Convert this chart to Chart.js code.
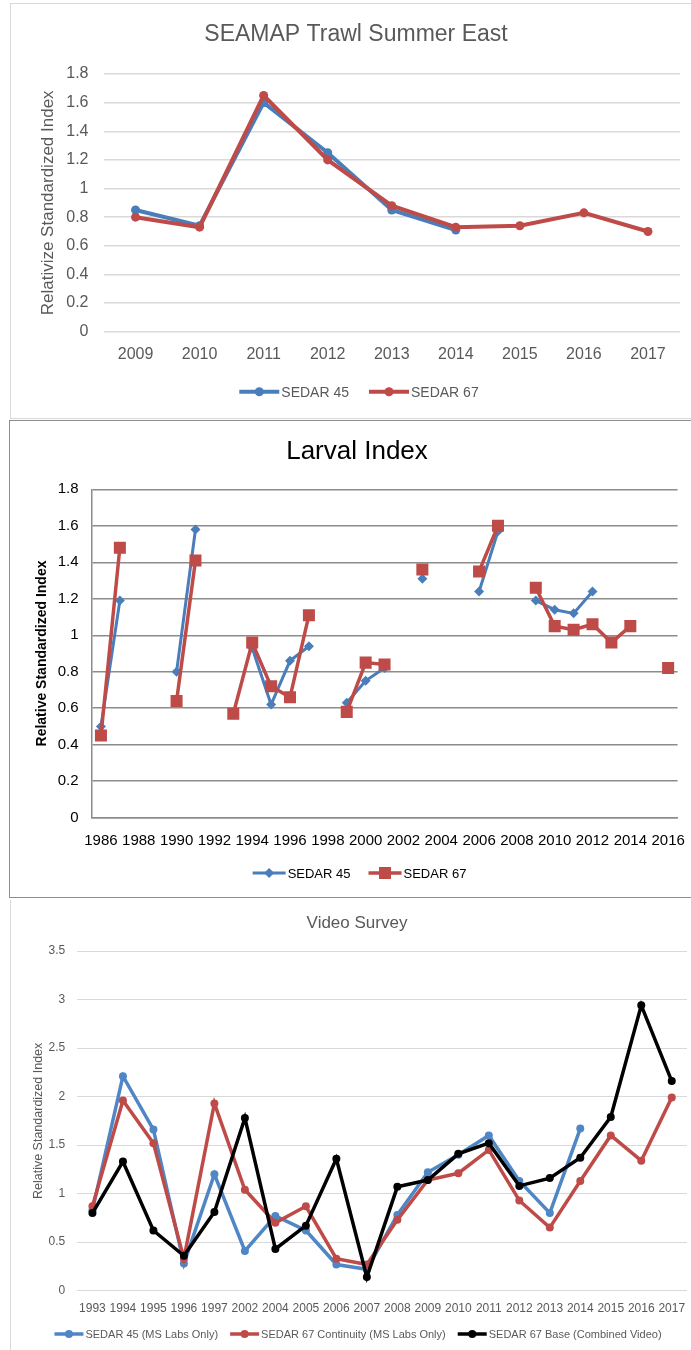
<!DOCTYPE html>
<html>
<head>
<meta charset="utf-8">
<title>SEDAR index comparison</title>
<script src="https://cdn.jsdelivr.net/npm/chart.js@4.4.1/dist/chart.umd.min.js"></script>
<style>
  html, body { margin: 0; padding: 0; background: #fff; }
  body { position: relative; width: 691px; height: 1350px; overflow: hidden; }
  .frame { position: absolute; box-sizing: border-box; }
  #frame1 { left: 10px; top: 3px; width: 700px; height: 416px; border: 1px solid #d9d9d9; }
  #frame2 { left: 9px; top: 420px; width: 700px; height: 478px; border: 1px solid #8c8c8c; }
  #frame3 { left: 10px; top: 900px; width: 1px; height: 450px; background: #d9d9d9; }
  canvas { position: absolute; left: 0; }
  #trawlChart { top: 0; }
  #larvalChart { top: 420px; }
  #videoChart { top: 900px; }
</style>
</head>
<body>
<div class="frame" id="frame1"></div>
<div class="frame" id="frame2"></div>
<div class="frame" id="frame3"></div>
<canvas id="trawlChart" width="691" height="420"></canvas>
<canvas id="larvalChart" width="691" height="480"></canvas>
<canvas id="videoChart" width="691" height="450"></canvas>
<script>
// SEAMAP Trawl Summer East
const trawlYears = ['2009', '2010', '2011', '2012', '2013', '2014', '2015', '2016', '2017'];
const trawlSedar45 = [0.85, 0.74, 1.60, 1.25, 0.85, 0.71, null, null, null];
const trawlSedar67 = [0.80, 0.73, 1.65, 1.20, 0.88, 0.73, 0.74, 0.83, 0.70];

// Larval Index (gaps = no survey)
const larvalYears = ['1986', '1987', '1988', '1989', '1990', '1991', '1992', '1993', '1994', '1995',
  '1996', '1997', '1998', '1999', '2000', '2001', '2002', '2003', '2004', '2005',
  '2006', '2007', '2008', '2009', '2010', '2011', '2012', '2013', '2014', '2015', '2016'];
const larvalSedar45 = [0.50, 1.19, null, null, 0.80, 1.58, null, null, 0.93, 0.62,
  0.86, 0.94, null, 0.63, 0.75, 0.82, null, 1.31, null, null,
  1.24, 1.57, null, 1.19, 1.14, 1.12, 1.24, null, null, null, null];
const larvalSedar67 = [0.45, 1.48, null, null, 0.64, 1.41, null, 0.57, 0.96, 0.72,
  0.66, 1.11, null, 0.58, 0.85, 0.84, null, 1.36, null, null,
  1.35, 1.60, null, 1.26, 1.05, 1.03, 1.06, 0.96, 1.05, null, 0.82];

// Video Survey
const videoYears = ['1993', '1994', '1995', '1996', '1997', '2002', '2004', '2005', '2006', '2007',
  '2008', '2009', '2010', '2011', '2012', '2013', '2014', '2015', '2016', '2017'];
const videoSedar45 = [0.83, 2.21, 1.66, 0.28, 1.20, 0.41, 0.77, 0.62, 0.27, 0.22,
  0.78, 1.22, 1.40, 1.60, 1.13, 0.80, 1.67, null, null, null];
const videoContinuity = [0.87, 1.96, 1.52, 0.33, 1.93, 1.04, 0.70, 0.87, 0.33, 0.27,
  0.73, 1.14, 1.21, 1.45, 0.93, 0.65, 1.13, 1.60, 1.34, 1.99];
const videoBase = [0.80, 1.33, 0.62, 0.36, 0.81, 1.78, 0.43, 0.67, 1.36, 0.14,
  1.07, 1.14, 1.41, 1.52, 1.08, 1.16, 1.37, 1.79, 2.94, 2.16];

const BLUE = '#4a7ebb';
const RED = '#be4b48';
const FONT = "'Liberation Sans', Arial, sans-serif";

Chart.defaults.font.family = FONT;
Chart.defaults.animation = false;

function drawMarker(ctx, style, r, x, y, color) {
  ctx.fillStyle = color;
  ctx.beginPath();
  if (style === 'rect') {
    const s = r * Math.SQRT1_2;
    ctx.rect(x - s, y - s, 2 * s, 2 * s);
  } else if (style === 'rectRot') {
    ctx.moveTo(x - r, y);
    ctx.lineTo(x, y - r);
    ctx.lineTo(x + r, y);
    ctx.lineTo(x, y + r);
    ctx.closePath();
  } else {
    ctx.arc(x, y, r, 0, Math.PI * 2);
  }
  ctx.fill();
}

// title + excel style legend (line with marker through it)
const excelDecor = {
  id: 'excelDecor',
  afterDraw(chart, args, opts) {
    const ctx = chart.ctx;
    ctx.save();
    ctx.font = opts.titleFont;
    ctx.fillStyle = opts.titleColor;
    ctx.textAlign = 'center';
    ctx.textBaseline = 'middle';
    ctx.fillText(opts.title, opts.titleX, opts.titleY);

    ctx.font = opts.legendFont;
    const items = chart.data.datasets.map(ds => ({ ds, w: ctx.measureText(ds.label).width }));
    const total = items.reduce((s, it) => s + opts.lineLen + opts.textGap + it.w, 0) + opts.itemGap * (items.length - 1);
    let x = opts.legendX - total / 2;
    const y = opts.legendY;
    items.forEach(({ ds, w }) => {
      ctx.strokeStyle = ds.borderColor;
      ctx.lineWidth = ds.borderWidth;
      ctx.beginPath();
      ctx.moveTo(x, y);
      ctx.lineTo(x + opts.lineLen, y);
      ctx.stroke();
      drawMarker(ctx, ds.pointStyle, ds.pointRadius, x + opts.lineLen / 2, y, ds.pointBackgroundColor);
      ctx.fillStyle = opts.legendColor;
      ctx.textAlign = 'left';
      ctx.fillText(ds.label, x + opts.lineLen + opts.textGap, y + 1);
      x += opts.lineLen + opts.textGap + w + opts.itemGap;
    });
    ctx.restore();
  }
};

const trimNum = v => String(+Number(v).toFixed(1));

function lineSet(label, data, color, style, radius, width, order) {
  return {
    label, data, order,
    borderColor: color,
    backgroundColor: color,
    pointBackgroundColor: color,
    pointBorderColor: color,
    pointBorderWidth: 0,
    borderWidth: width,
    pointStyle: style,
    pointRadius: radius,
    spanGaps: false,
    tension: 0
  };
}

// ---- Chart 1 ----
new Chart(document.getElementById('trawlChart'), {
  type: 'line',
  data: {
    labels: trawlYears,
    datasets: [
      lineSet('SEDAR 45', trawlSedar45, BLUE, 'circle', 4.5, 4, 1),
      lineSet('SEDAR 67', trawlSedar67, RED, 'circle', 4.5, 4, 0)
    ]
  },
  options: {
    responsive: false,
    layout: { padding: { left: 30, right: 11, top: 74, bottom: 48.3 } },
    plugins: {
      legend: { display: false },
      tooltip: { enabled: false },
      excelDecor: {
        title: 'SEAMAP Trawl Summer East', titleFont: '23px ' + FONT, titleColor: '#595959',
        titleX: 356, titleY: 35,
        legendFont: '14px ' + FONT, legendColor: '#595959', legendX: 359, legendY: 391.7,
        lineLen: 40, textGap: 2, itemGap: 20
      }
    },
    scales: {
      x: {
        offset: true,
        grid: { display: false },
        border: { display: false },
        ticks: { color: '#595959', font: { size: 16 }, padding: 5, maxRotation: 0, autoSkip: false },
        afterFit: s => { s.height = 40; }
      },
      y: {
        min: 0, max: 1.8,
        grid: { color: '#d9d9d9', lineWidth: 1.5, drawTicks: false },
        border: { display: false },
        ticks: { stepSize: 0.2, color: '#595959', font: { size: 16 }, padding: 15, callback: trimNum },
        title: { display: true, text: 'Relativize Standardized Index', color: '#595959', font: { size: 17 }, padding: { top: 8 } },
        afterFit: s => { s.width = 73.5; }
      }
    }
  },
  plugins: [excelDecor]
});

// ---- Chart 2 ----
new Chart(document.getElementById('larvalChart'), {
  type: 'line',
  data: {
    labels: larvalYears,
    datasets: [
      lineSet('SEDAR 45', larvalSedar45, BLUE, 'rectRot', 5, 3, 1),
      lineSet('SEDAR 67', larvalSedar67, RED, 'rect', 8.5, 3.5, 0)
    ]
  },
  options: {
    responsive: false,
    layout: { padding: { left: 25, right: 11.5, top: 69.3, bottom: 42.3 } },
    plugins: {
      legend: { display: false },
      tooltip: { enabled: false },
      excelDecor: {
        title: 'Larval Index', titleFont: '26px ' + FONT, titleColor: '#000',
        titleX: 357, titleY: 32,
        legendFont: '13px ' + FONT, legendColor: '#000', legendX: 359.5, legendY: 453,
        lineLen: 33, textGap: 2, itemGap: 18
      }
    },
    scales: {
      x: {
        offset: true,
        grid: { display: false },
        border: { display: true, color: '#8c8c8c', width: 1.5 },
        ticks: {
          color: '#000', font: { size: 15 }, padding: 6, maxRotation: 0, minRotation: 0, autoSkip: false,
          callback: (v, i) => (i % 2 === 0 ? larvalYears[i] : '')
        },
        afterFit: s => { s.height = 40; }
      },
      y: {
        min: 0, max: 1.8,
        grid: { color: '#8c8c8c', lineWidth: 1.5, drawTicks: false },
        border: { display: true, color: '#8c8c8c', width: 1.5 },
        ticks: { stepSize: 0.2, color: '#000', font: { size: 15 }, padding: 13, callback: trimNum },
        title: { display: true, text: 'Relative Standardized Index', color: '#000', font: { size: 14, weight: 'bold' }, padding: { top: 8.6 } },
        afterFit: s => { s.width = 66.5; }
      }
    }
  },
  plugins: [excelDecor]
});

// ---- Chart 3 ----
new Chart(document.getElementById('videoChart'), {
  type: 'line',
  data: {
    labels: videoYears,
    datasets: [
      lineSet('SEDAR 45 (MS Labs Only)', videoSedar45, '#4f86c6', 'circle', 4, 3.5, 2),
      lineSet('SEDAR 67 Continuity (MS Labs Only)', videoContinuity, RED, 'circle', 4, 3.5, 1),
      lineSet('SEDAR 67 Base (Combined Video)', videoBase, '#000', 'circle', 4, 3.5, 0)
    ]
  },
  options: {
    responsive: false,
    layout: { padding: { left: 20, right: 3, top: 51, bottom: 29.3 } },
    plugins: {
      legend: { display: false },
      tooltip: { enabled: false },
      excelDecor: {
        title: 'Video Survey', titleFont: '17px ' + FONT, titleColor: '#595959',
        titleX: 357, titleY: 23,
        legendFont: '11px ' + FONT, legendColor: '#595959', legendX: 358, legendY: 434,
        lineLen: 29, textGap: 2, itemGap: 12
      }
    },
    scales: {
      x: {
        offset: true,
        grid: { display: false },
        border: { display: false },
        ticks: { color: '#595959', font: { size: 12 }, padding: 3, maxRotation: 0, autoSkip: false },
        afterFit: s => { s.height = 30; }
      },
      y: {
        min: 0, max: 3.5,
        grid: { color: '#d9d9d9', lineWidth: 1, drawTicks: false },
        border: { display: false },
        ticks: { stepSize: 0.5, color: '#595959', font: { size: 12 }, padding: 12, callback: trimNum },
        title: { display: true, text: 'Relative Standardized Index', color: '#595959', font: { size: 12.5 }, padding: { top: 11 } },
        afterFit: s => { s.width = 57.2; }
      }
    }
  },
  plugins: [excelDecor]
});
</script>
</body>
</html>
